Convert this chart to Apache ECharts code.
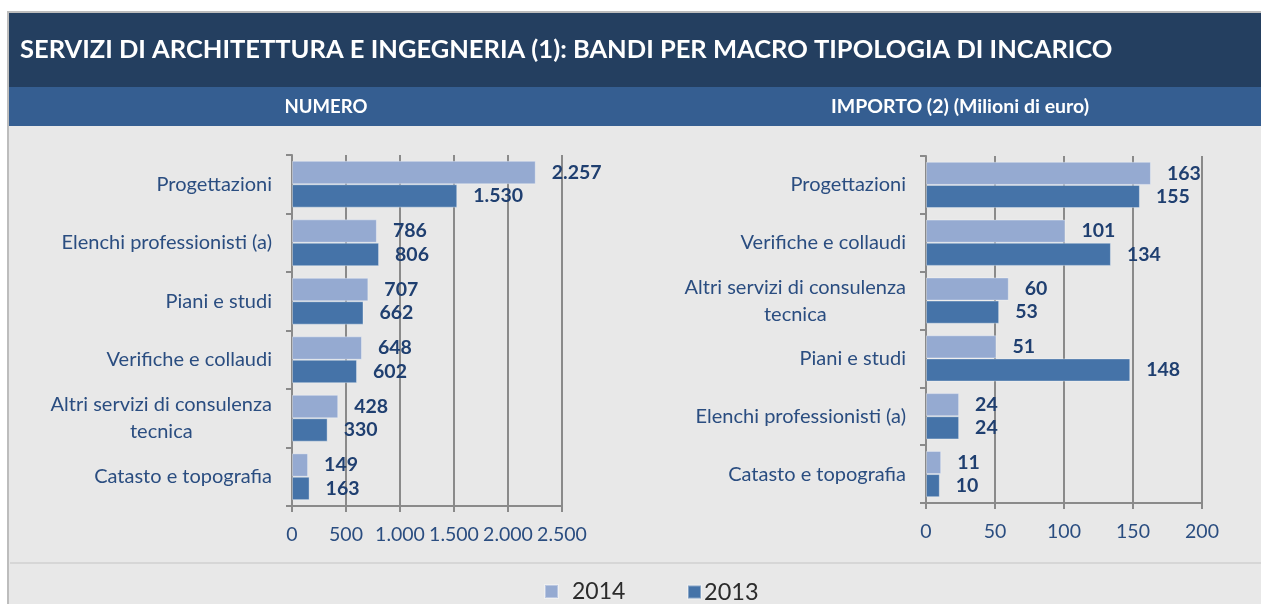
<!DOCTYPE html>
<html>
<head>
<meta charset="utf-8">
<script src="https://cdn.jsdelivr.net/npm/echarts@6/dist/echarts.min.js"></script>
<style>
html,body{margin:0;padding:0;background:#fff;}
#chart{width:1261px;height:604px;}
</style>
</head>
<body>
<div id="chart"></div>
<script>
// ---- Data ----
var titleText = 'SERVIZI DI ARCHITETTURA E INGEGNERIA (1): BANDI PER MACRO TIPOLOGIA DI INCARICO';
var leftTitle = 'NUMERO';
var rightTitle = 'IMPORTO (2) (Milioni di euro)';
var seriesNames = ['2014', '2013'];

var leftCategories = ['Progettazioni', 'Elenchi professionisti (a)', 'Piani e studi', 'Verifiche e collaudi', 'Altri servizi di consulenza\ntecnica', 'Catasto e topografia'];
var left2014 = [2257, 786, 707, 648, 428, 149];
var left2013 = [1530, 806, 662, 602, 330, 163];
var leftTicks = [0, 500, 1000, 1500, 2000, 2500];

var rightCategories = ['Progettazioni', 'Verifiche e collaudi', 'Altri servizi di consulenza\ntecnica', 'Piani e studi', 'Elenchi professionisti (a)', 'Catasto e topografia'];
var right2014 = [163, 101, 60, 51, 24, 11];
var right2013 = [155, 134, 53, 148, 24, 10];
var rightTicks = [0, 50, 100, 150, 200];

// ---- Styles ----
var FONT = 'Lato, "Open Sans", sans-serif';
var TXT = '#2A4D80';
var LBL = '#1F3F70';
var GRID = '#8A8A8A';
var C2014 = '#95AAD1';
var C2013 = '#4573A8';

function fmt(n) { return String(n).replace(/\B(?=(\d{3})+(?!\d))/g, '.'); }

function catLabel(v) {
  return v.split('\n').map(function (s) { return '{c|' + s + '}'; }).join('\n');
}

function yAxisDef(gridIndex, cats) {
  return {
    type: 'category', gridIndex: gridIndex, data: cats, inverse: true,
    axisLine: { show: true, lineStyle: { color: GRID, width: 2 } },
    axisTick: { show: true, length: 6, lineStyle: { color: GRID, width: 2 } },
    axisLabel: {
      margin: 20, formatter: catLabel,
      rich: { c: { align: 'center', fontSize: 20, color: TXT, fontFamily: FONT, lineHeight: 27 } }
    },
    splitLine: { show: false }
  };
}

function xAxisDef(gridIndex, ticks) {
  return {
    type: 'value', gridIndex: gridIndex,
    min: ticks[0], max: ticks[ticks.length - 1], interval: ticks[1] - ticks[0],
    axisLine: { show: true, lineStyle: { color: GRID, width: 2 } },
    axisTick: { show: true, length: 6, lineStyle: { color: GRID, width: 2 } },
    axisLabel: { margin: 19, fontSize: 19.5, color: TXT, fontFamily: FONT, formatter: fmt },
    splitLine: { show: true, lineStyle: { color: GRID, width: 2 } }
  };
}

function barSeries(name, idx, data, color) {
  return {
    type: 'bar', name: name, xAxisIndex: idx, yAxisIndex: idx, data: data,
    barGap: '0%', barCategoryGap: '20%',
    itemStyle: { color: color, borderColor: 'rgba(255,255,255,0.35)', borderWidth: 1 },
    label: {
      show: true, position: 'right', distance: 16, formatter: function (p) { return fmt(p.value); },
      fontSize: 19.5, fontWeight: 'bold', color: LBL, fontFamily: FONT
    },
    z: 3
  };
}

var chart = echarts.init(document.getElementById('chart'), null, { renderer: 'canvas' });

chart.setOption({
  backgroundColor: '#ffffff',
  animation: false,
  graphic: [
    { type: 'rect', z: -10, shape: { x: 8, y: 12, width: 1260, height: 600 }, style: { fill: '#E8E8E8', stroke: '#BDBDBD', lineWidth: 2 } },
    { type: 'rect', z: -9, shape: { x: 9, y: 13, width: 1260, height: 74 }, style: { fill: '#243F60' } },
    { type: 'rect', z: -9, shape: { x: 9, y: 87, width: 1260, height: 39 }, style: { fill: '#355E91' } },
    { type: 'line', z: -9, shape: { x1: 10, y1: 563, x2: 1261, y2: 563 }, style: { stroke: '#D6D6D6', lineWidth: 2 } },
    { type: 'text', z: -8, x: 20, y: 50, style: { text: titleText, fill: '#ffffff', font: 'bold 25.5px ' + FONT, textVerticalAlign: 'middle', textAlign: 'left' } },
    { type: 'text', z: -8, x: 326, y: 107, style: { text: leftTitle, fill: '#ffffff', font: 'bold 18.5px ' + FONT, textVerticalAlign: 'middle', textAlign: 'center' } },
    { type: 'text', z: -8, x: 960, y: 107, style: { text: rightTitle, fill: '#ffffff', font: 'bold 19.5px ' + FONT, textVerticalAlign: 'middle', textAlign: 'center' } }
  ],
  legend: [
    {
      data: [seriesNames[0]], left: 544, top: 580, padding: 0, itemWidth: 13, itemHeight: 13, icon: 'rect',
      textStyle: { fontSize: 23, color: '#2B2B2B', fontFamily: FONT, padding: [0, 0, 0, 9] }
    },
    {
      data: [seriesNames[1]], left: 687, top: 580, padding: 0, itemWidth: 13, itemHeight: 13, icon: 'rect',
      textStyle: { fontSize: 23.5, color: '#2B2B2B', fontFamily: FONT, padding: [0, 0, 0, -2] }
    }
  ],
  grid: [
    { left: 292, top: 155, width: 270, height: 351 },
    { left: 926, top: 156, width: 276, height: 347 }
  ],
  xAxis: [xAxisDef(0, leftTicks), xAxisDef(1, rightTicks)],
  yAxis: [yAxisDef(0, leftCategories), yAxisDef(1, rightCategories)],
  series: [
    barSeries(seriesNames[0], 0, left2014, C2014),
    barSeries(seriesNames[1], 0, left2013, C2013),
    barSeries(seriesNames[0], 1, right2014, C2014),
    barSeries(seriesNames[1], 1, right2013, C2013)
  ]
});
</script>
</body>
</html>
